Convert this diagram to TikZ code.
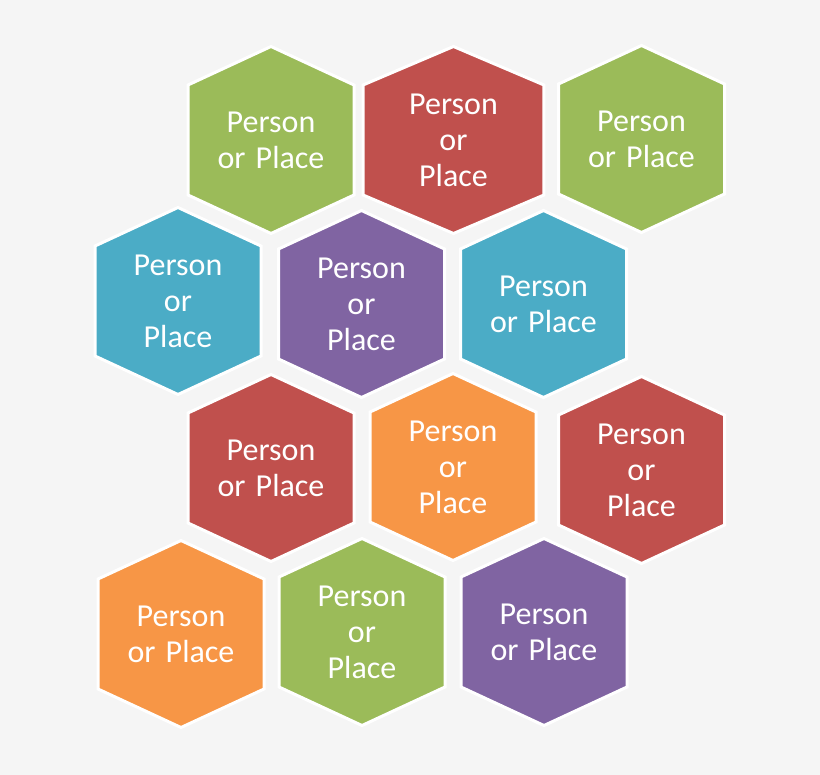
\documentclass[tikz,border=0pt]{standalone}
\usepackage{fontspec}
\setmainfont[WordSpace=1.4]{Carlito}
\definecolor{bgpaper}{HTML}{F5F5F5}
\definecolor{hgreen}{HTML}{9BBB59}
\definecolor{hred}{HTML}{C0504D}
\definecolor{hblue}{HTML}{4BACC6}
\definecolor{hpurple}{HTML}{8064A2}
\definecolor{horange}{HTML}{F79646}
\tikzset{
  cell/.style={draw=white, line width=3pt},
  caption/.style={text=white, align=center, inner sep=0pt, font=\fontsize{32}{36}\selectfont},
  hexcell/.pic={\path[cell, pic actions] (0,-93.5) -- (83,-55) -- (83,55) -- (0,93.5) -- (-83,55) -- (-83,-55) -- cycle;},
}
\begin{document}
\begin{tikzpicture}[x=1pt, y=-1pt]
\fill[bgpaper] (0,0) rectangle (820,775);
\useasboundingbox (0,0) rectangle (820,775);
% row 1
\pic[fill=hgreen] at (271,140) {hexcell};
\pic[fill=hred, xscale=1.09] at (453.5,140) {hexcell};
\pic[fill=hgreen] at (641.5,139) {hexcell};
\node[caption] (hx11) at (271,140) {Person\\or Place};
\node[caption] (hx12) at (453.5,140) {Person\\or\\Place};
\node[caption] (hx13) at (641.5,139) {Person\\or Place};
% row 2
\pic[fill=hblue] at (178,301) {hexcell};
\pic[fill=hpurple] at (361.5,304) {hexcell};
\pic[fill=hblue] at (543.5,304) {hexcell};
\node[caption] (hx21) at (178,301) {Person\\or\\Place};
\node[caption] (hx22) at (361.5,304) {Person\\or\\Place};
\node[caption] (hx23) at (543.5,304) {Person\\or Place};
% row 3
\pic[fill=hred] at (271,468) {hexcell};
\pic[fill=horange] at (453,467) {hexcell};
\pic[fill=hred] at (641.5,470) {hexcell};
\node[caption] (hx31) at (271,468) {Person\\or Place};
\node[caption] (hx32) at (453,467) {Person\\or\\Place};
\node[caption] (hx33) at (641.5,470) {Person\\or\\Place};
% row 4
\pic[fill=horange] at (181,634) {hexcell};
\pic[fill=hgreen] at (362,632) {hexcell};
\pic[fill=hpurple] at (544,632) {hexcell};
\node[caption] (hx41) at (181,634) {Person\\or Place};
\node[caption] (hx42) at (362,632) {Person\\or\\Place};
\node[caption] (hx43) at (544,632) {Person\\or Place};
\end{tikzpicture}
\end{document}
